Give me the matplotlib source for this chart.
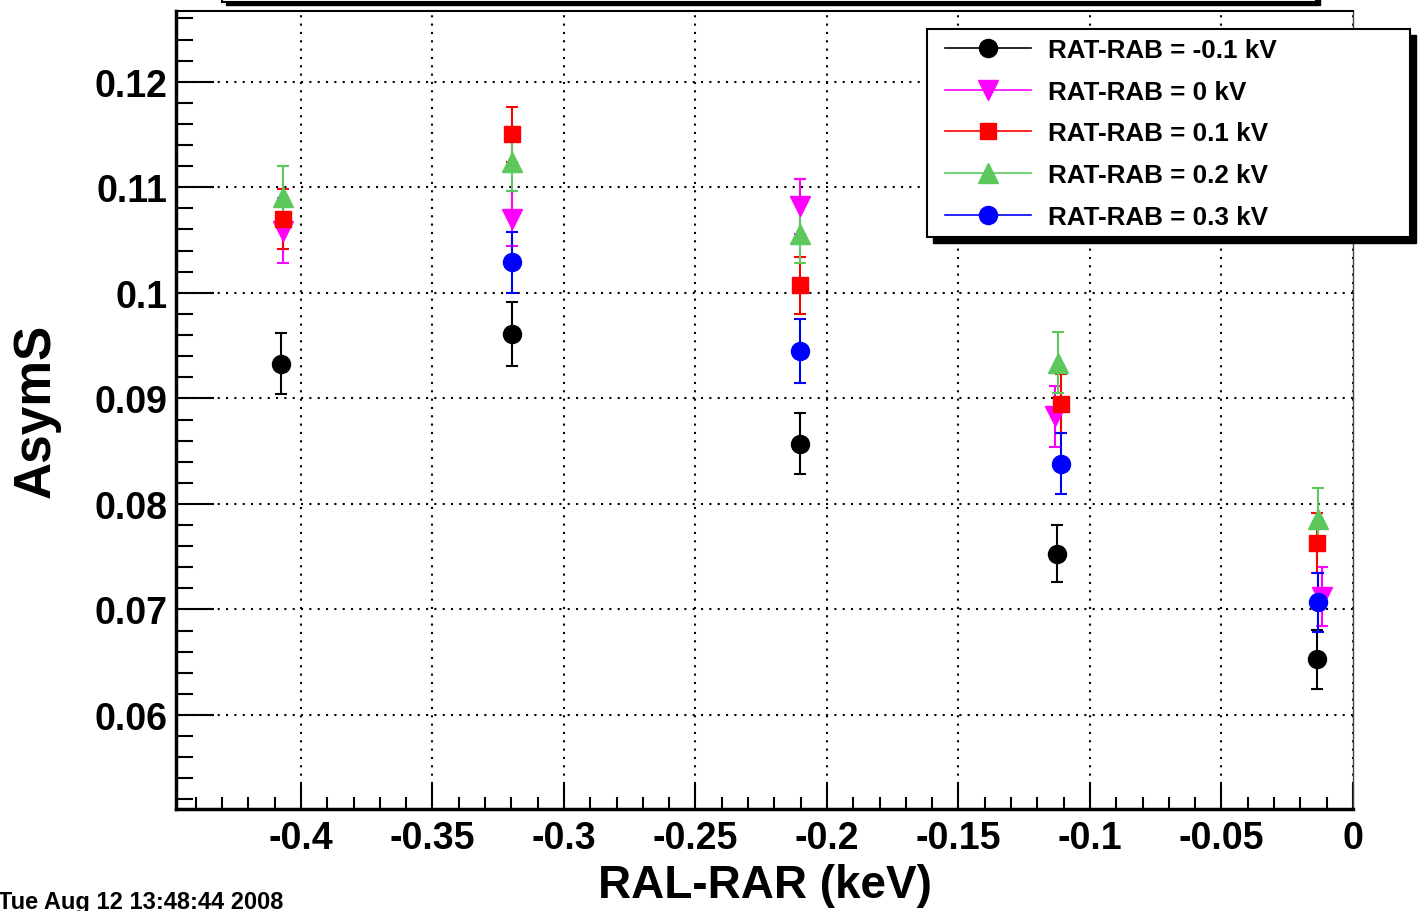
import matplotlib
matplotlib.use("Agg")
import matplotlib.pyplot as plt
from matplotlib.lines import Line2D
from matplotlib.patches import Rectangle
from matplotlib.ticker import MultipleLocator

plt.rcParams['font.family'] = ['Liberation Sans', 'DejaVu Sans']
plt.rcParams['font.weight'] = 'bold'

# data
labels = ["RAT-RAB = -0.1 kV", "RAT-RAB = 0 kV", "RAT-RAB = 0.1 kV",
          "RAT-RAB = 0.2 kV", "RAT-RAB = 0.3 kV"]
x_m01 = [-0.4076, -0.3198, -0.2103, -0.1125, -0.0137]
y_m01 = [0.0933, 0.0961, 0.0857, 0.0753, 0.0653]
e_m01 = [0.0029, 0.0030, 0.0029, 0.0027, 0.0028]
x_0 = [-0.4068, -0.3198, -0.2103, -0.1133, -0.0118]
y_0 = [0.1059, 0.1070, 0.1082, 0.0883, 0.0712]
e_0 = [0.0031, 0.0026, 0.0026, 0.0029, 0.0028]
x_01 = [-0.4068, -0.3198, -0.2103, -0.1110, -0.0137]
y_01 = [0.1070, 0.1150, 0.1007, 0.0895, 0.0763]
e_01 = [0.0028, 0.0026, 0.0027, 0.0028, 0.0028]
x_02 = [-0.4068, -0.3198, -0.2103, -0.1122, -0.0133]
y_02 = [0.1091, 0.1124, 0.1056, 0.0934, 0.0786]
e_02 = [0.0029, 0.0028, 0.0028, 0.0029, 0.0029]
x_03 = [-0.3198, -0.2103, -0.1110, -0.0133]
y_03 = [0.1029, 0.0945, 0.0838, 0.0707]
e_03 = [0.0029, 0.0030, 0.0029, 0.0028]

series = [(x_m01, y_m01, e_m01, 'black', 'o', 13),
          (x_0, y_0, e_0, '#ff00ff', 'v', 15),
          (x_01, y_01, e_01, '#ff0000', 's', 12),
          (x_02, y_02, e_02, '#5cc85c', '^', 15),
          (x_03, y_03, e_03, '#0000ff', 'o', 13)]

W, H = 1423, 912
fig = plt.figure(figsize=(W / 100, H / 100), dpi=100)
ax = fig.add_axes([176/W, 1 - 810/H, (1353 - 176)/W, (810 - 12)/H])

handles = []
for x, y, e, c, m, ms in series:
    ax.errorbar(x, y, yerr=e, fmt=m, color=c, ms=ms, elinewidth=1.5,
                capsize=4.5, capthick=1.5, zorder=3)
    handles.append(Line2D([], [], color=c, marker=m, ms=ms, lw=1.2))

ax.set_xlim(-0.4475, 0.0)
ax.set_ylim(0.0511, 0.1267)
ax.xaxis.set_minor_locator(MultipleLocator(0.01))
ax.yaxis.set_minor_locator(MultipleLocator(0.002))
ax.set_xticks([-0.4, -0.35, -0.3, -0.25, -0.2, -0.15, -0.1, -0.05, 0])
ax.set_xticklabels(["-0.4", "-0.35", "-0.3", "-0.25", "-0.2", "-0.15", "-0.1", "-0.05", "0"])
ax.set_yticks([0.06, 0.07, 0.08, 0.09, 0.1, 0.11, 0.12])
ax.set_yticklabels(["0.06", "0.07", "0.08", "0.09", "0.1", "0.11", "0.12"])

ax.grid(True, which='major', color='black', linestyle=(0, (1, 3)), lw=1.5)
ax.tick_params(axis='both', which='both', direction='in', labelsize=27, width=1.5,
               top=False, right=False)
ax.tick_params(axis='y', which='major', length=27, pad=6)
ax.tick_params(axis='y', which='minor', length=12)
ax.tick_params(axis='x', which='major', length=18, pad=8)
ax.tick_params(axis='x', which='minor', length=9)
for lab in ax.get_xticklabels() + ax.get_yticklabels():
    lab.set_fontweight('bold')

ax.spines['left'].set_linewidth(2.5)
ax.spines['bottom'].set_linewidth(2.5)
ax.spines['top'].set_linewidth(1.5)
ax.spines['right'].set_linewidth(1.0)
ax.spines['right'].set_color('#444444')

ax.set_xlabel("RAL-RAR (keV)", fontsize=33, fontweight='bold')
ax.xaxis.set_label_coords((765 - 176)/1177, -0.068)
ax.set_ylabel("AsymS", fontsize=37, fontweight='bold')
ax.yaxis.set_label_coords(-0.098, 0.5)

# legend box with a solid shadow, as in ROOT
fig.patches.append(Rectangle((933/W, 1 - 244/H), 483/W, 208/H, transform=fig.transFigure,
                             facecolor='black', edgecolor='black', zorder=4))
fig.patches.append(Rectangle((927/W, 1 - 238/H), 483/W, 208/H, transform=fig.transFigure,
                             facecolor='white', edgecolor='black', lw=1.5, zorder=5))
leg = fig.legend(handles, labels, loc='upper left',
                 bbox_to_anchor=(945/W, 1 - 39/H), borderaxespad=0, borderpad=0,
                 frameon=False, fontsize=18.7, handlelength=3.3, handletextpad=0.65,
                 labelspacing=0.68)
leg.set_zorder(6)
for t in leg.get_texts():
    t.set_fontweight('bold')

# clipped title box at the top
fig.patches.append(Rectangle((226/W, 1 - 6/H), (1320 - 226)/W, 0.05,
                             transform=fig.transFigure, facecolor='black',
                             edgecolor='black', zorder=1))
fig.patches.append(Rectangle((222/W, 1 - 3/H), (1316 - 222)/W, 0.05,
                             transform=fig.transFigure, facecolor='white',
                             edgecolor='black', lw=1.5, zorder=2))

fig.text(-2/W, 1 - 909/H, "Tue Aug 12 13:48:44 2008", fontsize=17,
         fontweight='bold', ha='left', va='baseline')

fig.savefig("out.png", dpi=100)
